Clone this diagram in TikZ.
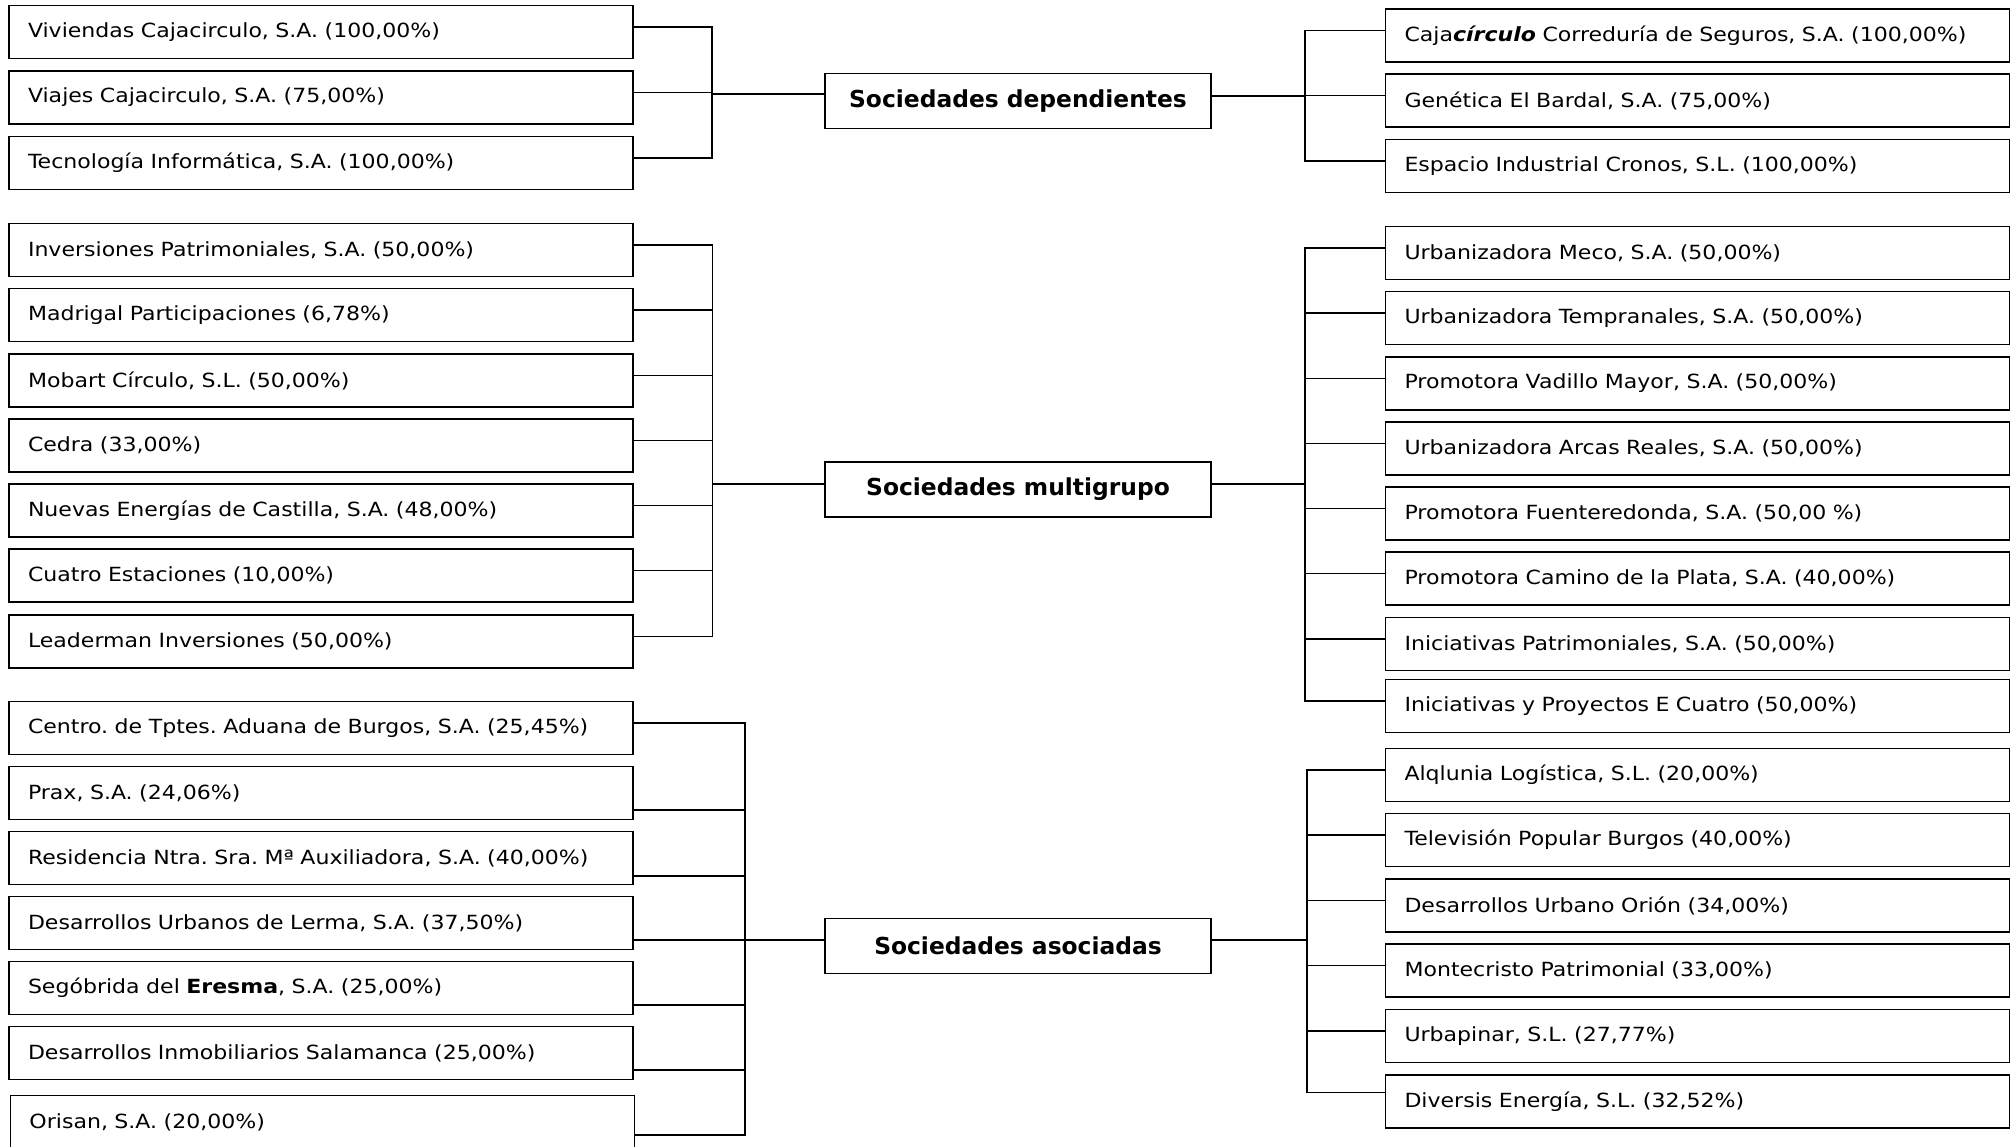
\documentclass[tikz,border=0pt]{standalone}
\usepackage{fontspec}
\setmainfont{DejaVu Sans}
\newfontfamily\firmafont{DejaVu Sans}[FakeStretch=1.13]
\frenchspacing

\begin{document}
\begin{tikzpicture}[
    % Box styles
    firma/.style={rectangle, draw=black, line width=1.1pt, minimum height=1.06cm, text width=11.72cm, inner xsep=0.38cm, align=left, font=\firmafont\fontsize{11.1}{13}\selectfont},
    grupo/.style={rectangle, draw=black, line width=1.1pt, minimum width=7.72cm, minimum height=1.1cm, font=\fontsize{13.3}{15}\selectfont\bfseries},
    % Connector style
    enlace/.style={draw=black, line width=1.1pt}
]
\useasboundingbox (0,0) rectangle (40.22,-22.92);

% Sociedades dependientes
\node[grupo] (dep) at (20.36,-2.02) {Sociedades dependientes};
\node[firma] (viviendas) at (6.42,-0.64) {Viviendas Cajacirculo, S.A. (100,00\%)};
\node[firma] (viajes) at (6.42,-1.95) {Viajes Cajacirculo, S.A. (75,00\%)};
\node[firma] (tecno) at (6.42,-3.26) {Tecnología Informática, S.A. (100,00\%)};
\node[firma] (correduria) at (33.95,-0.71) {Caja\textbf{\textit{círculo}} Correduría de Seguros, S.A. (100,00\%)};
\node[firma] (genetica) at (33.95,-2.01) {Genética El Bardal, S.A. (75,00\%)};
\node[firma] (cronos) at (33.95,-3.32) {Espacio Industrial Cronos, S.L. (100,00\%)};

% Sociedades multigrupo
\node[grupo] (multi) at (20.36,-9.79) {Sociedades multigrupo};
\node[firma] (inversiones) at (6.42,-5.00) {Inversiones Patrimoniales, S.A. (50,00\%)};
\node[firma] (madrigal) at (6.42,-6.30) {Madrigal Participaciones (6,78\%)};
\node[firma] (mobart) at (6.42,-7.61) {Mobart Círculo, S.L. (50,00\%)};
\node[firma] (cedra) at (6.42,-8.91) {Cedra (33,00\%)};
\node[firma] (energias) at (6.42,-10.21) {Nuevas Energías de Castilla, S.A. (48,00\%)};
\node[firma] (estaciones) at (6.42,-11.51) {Cuatro Estaciones (10,00\%)};
\node[firma] (leaderman) at (6.42,-12.83) {Leaderman Inversiones (50,00\%)};
\node[firma] (meco) at (33.95,-5.06) {Urbanizadora Meco, S.A. (50,00\%)};
\node[firma] (tempranales) at (33.95,-6.36) {Urbanizadora Tempranales, S.A. (50,00\%)};
\node[firma] (vadillo) at (33.95,-7.67) {Promotora Vadillo Mayor, S.A. (50,00\%)};
\node[firma] (arcas) at (33.95,-8.97) {Urbanizadora Arcas Reales, S.A. (50,00\%)};
\node[firma] (fuenteredonda) at (33.95,-10.27) {Promotora Fuenteredonda, S.A. (50,00 \%)};
\node[firma] (plata) at (33.95,-11.57) {Promotora Camino de la Plata, S.A. (40,00\%)};
\node[firma] (iniciativas) at (33.95,-12.88) {Iniciativas Patrimoniales, S.A. (50,00\%)};
\node[firma] (ecuatro) at (33.95,-14.12) {Iniciativas y Proyectos E Cuatro (50,00\%)};

% Sociedades asociadas
\node[grupo] (asoc) at (20.36,-18.92) {Sociedades asociadas};
\node[firma] (aduana) at (6.42,-14.56) {Centro. de Tptes. Aduana de Burgos, S.A. (25,45\%)};
\node[firma] (prax) at (6.42,-15.86) {Prax, S.A. (24,06\%)};
\node[firma] (residencia) at (6.42,-17.16) {Residencia Ntra. Sra. Mª Auxiliadora, S.A. (40,00\%)};
\node[firma] (lerma) at (6.42,-18.46) {Desarrollos Urbanos de Lerma, S.A. (37,50\%)};
\node[firma] (eresma) at (6.42,-19.76) {Segóbrida del \textbf{Eresma}, S.A. (25,00\%)};
\node[firma] (salamanca) at (6.42,-21.06) {Desarrollos Inmobiliarios Salamanca (25,00\%)};
\node[firma] (orisan) at (6.45,-22.44) {Orisan, S.A. (20,00\%)};
\node[firma] (alqlunia) at (33.95,-15.50) {Alqlunia Logística, S.L. (20,00\%)};
\node[firma] (television) at (33.95,-16.80) {Televisión Popular Burgos (40,00\%)};
\node[firma] (orion) at (33.95,-18.11) {Desarrollos Urbano Orión (34,00\%)};
\node[firma] (montecristo) at (33.95,-19.41) {Montecristo Patrimonial (33,00\%)};
\node[firma] (urbapinar) at (33.95,-20.72) {Urbapinar, S.L. (27,77\%)};
\node[firma] (diversis) at (33.95,-22.03) {Diversis Energía, S.L. (32,52\%)};

% Junction points of the brackets
\coordinate (jdl) at (14.24,-1.88);
\coordinate (jdr) at (26.10,-1.92);
\coordinate (jml) at (14.25,-9.68);
\coordinate (jmr) at (26.10,-9.68);
\coordinate (jal) at (14.90,-18.80);
\coordinate (jar) at (26.14,-18.80);

% Brackets - dependientes
\draw[enlace] (jdl) -- (jdl -| dep.west);
\draw[enlace] (jdr) -- (jdr -| dep.east);
\draw[enlace] ([yshift=1mm]viviendas.east) -| (jdl);
\draw[enlace] ([yshift=1mm]viajes.east) -| (jdl);
\draw[enlace] ([yshift=1mm]tecno.east) -| (jdl);
\draw[enlace] ([yshift=1mm]correduria.west) -| (jdr);
\draw[enlace] ([yshift=1mm]genetica.west) -| (jdr);
\draw[enlace] ([yshift=1mm]cronos.west) -| (jdr);

% Brackets - multigrupo
\draw[enlace] (jml) -- (jml -| multi.west);
\draw[enlace] (jmr) -- (jmr -| multi.east);
\draw[enlace] ([yshift=1mm]inversiones.east) -| (jml);
\draw[enlace] ([yshift=1mm]madrigal.east) -| (jml);
\draw[enlace] ([yshift=1mm]mobart.east) -| (jml);
\draw[enlace] ([yshift=1mm]cedra.east) -| (jml);
\draw[enlace] ([yshift=1mm]energias.east) -| (jml);
\draw[enlace] ([yshift=1mm]estaciones.east) -| (jml);
\draw[enlace] ([yshift=1mm]leaderman.east) -| (jml);
\draw[enlace] ([yshift=1mm]meco.west) -| (jmr);
\draw[enlace] ([yshift=1mm]tempranales.west) -| (jmr);
\draw[enlace] ([yshift=1mm]vadillo.west) -| (jmr);
\draw[enlace] ([yshift=1mm]arcas.west) -| (jmr);
\draw[enlace] ([yshift=1mm]fuenteredonda.west) -| (jmr);
\draw[enlace] ([yshift=1mm]plata.west) -| (jmr);
\draw[enlace] ([yshift=1mm]iniciativas.west) -| (jmr);
\draw[enlace] ([yshift=1mm]ecuatro.west) -| (jmr);

% Brackets - asociadas (left lines sit lower on the boxes)
\draw[enlace] (jal) -- (jal -| asoc.west);
\draw[enlace] (jar) -- (jar -| asoc.east);
\draw[enlace] ([yshift=1mm]aduana.east) -| (jal);
\draw[enlace] ([yshift=-3.4mm]prax.east) -| (jal);
\draw[enlace] ([yshift=-3.6mm]residencia.east) -| (jal);
\draw[enlace] ([yshift=-3.4mm]lerma.east) -| (jal);
\draw[enlace] ([yshift=-3.4mm]eresma.east) -| (jal);
\draw[enlace] ([yshift=-3.4mm]salamanca.east) -| (jal);
\draw[enlace] ([yshift=-2.6mm]orisan.east) -| (jal);
\draw[enlace] ([yshift=1mm]alqlunia.west) -| (jar);
\draw[enlace] ([yshift=1mm]television.west) -| (jar);
\draw[enlace] ([yshift=1mm]orion.west) -| (jar);
\draw[enlace] ([yshift=1mm]montecristo.west) -| (jar);
\draw[enlace] ([yshift=1mm]urbapinar.west) -| (jar);
\draw[enlace] ([yshift=1.8mm]diversis.west) -| (jar);

\end{tikzpicture}
\end{document}
